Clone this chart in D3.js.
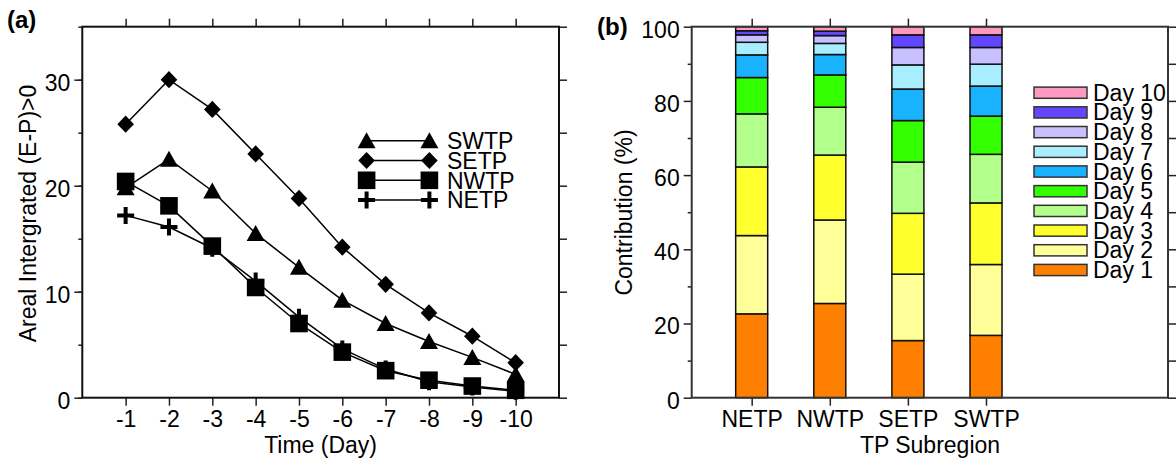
<!DOCTYPE html>
<html>
<head>
<meta charset="utf-8">
<script src="https://d3js.org/d3.v7.min.js"></script>
<style>
  body { margin: 0; background: #fff; }
  svg text { font-family: "Liberation Sans", Arial, sans-serif; fill: #000; }
</style>
</head>
<body>
<svg id="chart" width="1176" height="460"></svg>
<script>

// ---- data (a): areal integrated (E-P)>0 per source day
var days = ["-1", "-2", "-3", "-4", "-5", "-6", "-7", "-8", "-9", "-10"]
var swtp = [19.8, 22.5, 19.5, 15.5, 12.3, 9.2, 7.0, 5.3, 3.8, 2.2]
var setp = [25.8, 30.0, 27.2, 23.0, 18.8, 14.2, 10.7, 8.0, 5.8, 3.3]
var nwtp = [20.4, 18.1, 14.3, 10.4, 7.0, 4.3, 2.55, 1.65, 1.1, 0.7]
var netp = [17.2, 16.1, 14.1, 11.0, 7.6, 4.6, 2.7, 1.5, 1.0, 0.6]

// ---- data (b): contribution (%) of each day, per subregion
var regions = ["NETP", "NWTP", "SETP", "SWTP"]
var dayNames = ["Day 1", "Day 2", "Day 3", "Day 4", "Day 5", "Day 6", "Day 7", "Day 8", "Day 9", "Day 10"]
var netpPct = [22.6, 21.1, 18.5, 14.3, 9.8, 6.1, 3.4, 2.0, 1.1, 1.1]
var nwtpPct = [25.4, 22.5, 17.5, 12.9, 8.7, 5.5, 3.0, 2.1, 1.2, 1.2]
var setpPct = [15.4, 17.9, 16.4, 13.8, 11.2, 8.5, 6.5, 4.7, 3.4, 2.2]
var swtpPct = [16.8, 19.1, 16.6, 13.1, 10.3, 8.1, 5.9, 4.5, 3.4, 2.2]

var dayColors = ["#ff8000", "#ffff99", "#ffff2e", "#b3ff8c", "#33ff00",
                 "#19b2ff", "#a8eeff", "#c9c0ff", "#6347ff", "#ff99c0"]

var svg = d3.select("#chart")
var FS = 23

// marker shapes, centred on 0,0
function marker(type) {
  if (type == "square") return "M-8.8,-8.8H8.8V8.8H-8.8Z"
  if (type == "diamond") return "M0,-8.6L8.3,0L0,8.6L-8.3,0Z"
  if (type == "triangle") return "M0,-8.5L9,7.5L-9,7.5Z"
  return "M-8.5,0H8.5M0,-8.5V8.5"   // plus
}

function drawMarker(g, type, x, y) {
  var p = g.append("path").attr("d", marker(type))
    .attr("transform", "translate(" + x + "," + y + ")")
  if (type == "plus") p.attr("fill", "none").attr("stroke", "#000").attr("stroke-width", 4)
  else p.attr("fill", "#000")
}

// ================= panel (a) =================
var xa = d3.scaleLinear().domain([0, 11]).range([82.3, 559])
var ya = d3.scaleLinear().domain([0, 35]).range([397.7, 26.7])

var ga = svg.append("g")

// minor ticks every 5 on both sides
ga.append("g").attr("transform", "translate(82.3,0)")
  .call(d3.axisLeft(ya).tickValues(d3.range(0, 36, 5)).tickSize(4).tickFormat(""))
ga.append("g").attr("transform", "translate(559,0)")
  .call(d3.axisRight(ya).tickValues(d3.range(0, 36, 5)).tickSize(8).tickFormat(""))
// labelled ticks
ga.append("g").attr("class", "ylab").attr("transform", "translate(82.3,0)")
  .call(d3.axisLeft(ya).tickValues([0, 10, 20, 30]).tickSize(8).tickPadding(4))
ga.append("g").attr("class", "xlab").attr("transform", "translate(0,397.7)")
  .call(d3.axisBottom(xa).tickValues(d3.range(1, 11)).tickFormat(function(i) { return days[i - 1] })
    .tickSize(8).tickPadding(5))
ga.append("g").attr("transform", "translate(0,26.7)")
  .call(d3.axisTop(xa).tickValues(d3.range(1, 11)).tickSize(8).tickFormat(""))

ga.append("rect").attr("x", 82.3).attr("y", 26.7).attr("width", 559 - 82.3).attr("height", 397.7 - 26.7)
  .attr("fill", "none").attr("stroke", "#111").attr("stroke-width", 2)

var series = [
  {name: "SWTP", vals: swtp, shape: "triangle"},
  {name: "SETP", vals: setp, shape: "diamond"},
  {name: "NWTP", vals: nwtp, shape: "square"},
  {name: "NETP", vals: netp, shape: "plus"}
]

var line = d3.line()
  .x(function(d, i) { return xa(i + 1) })
  .y(function(d) { return ya(d) })

series.slice().reverse().forEach(function(s) {
  ga.append("path").datum(s.vals).attr("d", line)
    .attr("fill", "none").attr("stroke", "#000").attr("stroke-width", 1.5)
  s.vals.forEach(function(v, i) { drawMarker(ga, s.shape, xa(i + 1), ya(v)) })
})

// legend (a)
series.forEach(function(s, i) {
  var ly = 140.7 + i * 19.8
  ga.append("line").attr("x1", 366.6).attr("x2", 429.4).attr("y1", ly).attr("y2", ly)
    .attr("stroke", "#000").attr("stroke-width", 1.5)
  drawMarker(ga, s.shape, 366.6, ly)
  drawMarker(ga, s.shape, 429.4, ly)
  ga.append("text").attr("x", 447).attr("y", ly + 8.2).style("font-size", FS + "px").text(s.name)
})

ga.append("text").attr("x", 320.6).attr("y", 453).attr("text-anchor", "middle")
  .style("font-size", FS + "px").text("Time (Day)")
ga.append("text").attr("transform", "translate(35.5,213.5) rotate(-90)").attr("text-anchor", "middle")
  .style("font-size", FS + "px").text("Areal Intergrated (E-P)>0")
ga.append("text").attr("x", 7).attr("y", 28).style("font-size", "24px").style("font-weight", "bold").text("(a)")

// ================= panel (b) =================
var xb = d3.scaleLinear().domain([0.232, 6.33]).range([691.7, 1168])
var yb = d3.scaleLinear().domain([0, 100]).range([397.7, 26.7])
var barW = 32

var gb = svg.append("g")

gb.append("g").attr("transform", "translate(691.7,0)")
  .call(d3.axisLeft(yb).tickValues(d3.range(10, 100, 20)).tickSize(4).tickFormat(""))
gb.append("g").attr("transform", "translate(1168,0)")
  .call(d3.axisRight(yb).tickValues(d3.range(0, 101, 10)).tickSize(8).tickFormat(""))
gb.append("g").attr("class", "ylab").attr("transform", "translate(691.7,0)")
  .call(d3.axisLeft(yb).tickValues(d3.range(0, 101, 20)).tickSize(8).tickPadding(4))
gb.append("g").attr("class", "xlab").attr("transform", "translate(0,397.7)")
  .call(d3.axisBottom(xb).tickValues([1, 2, 3, 4]).tickFormat(function(i) { return regions[i - 1] })
    .tickSize(8).tickPadding(5))
gb.append("g").attr("transform", "translate(0,26.7)")
  .call(d3.axisTop(xb).tickValues([1, 2, 3, 4]).tickSize(8).tickFormat(""))

// stacked bars
var pct = [netpPct, nwtpPct, setpPct, swtpPct]
var rows = regions.map(function(r, i) {
  var o = {region: r, idx: i + 1}
  dayNames.forEach(function(d, k) { o[d] = pct[i][k] })
  return o
})
var stacked = d3.stack().keys(dayNames)(rows)

gb.selectAll("g.layer").data(stacked).enter().append("g").attr("class", "layer")
  .attr("fill", function(d, k) { return dayColors[k] })
  .selectAll("rect").data(function(d) { return d }).enter().append("rect")
    .attr("x", function(d) { return xb(d.data.idx) - barW / 2 })
    .attr("width", barW)
    .attr("y", function(d) { return yb(d[1]) })
    .attr("height", function(d) { return yb(d[0]) - yb(d[1]) })
    .attr("stroke", "#111").attr("stroke-width", 1.5)

gb.append("rect").attr("x", 691.7).attr("y", 26.7).attr("width", 1168 - 691.7).attr("height", 397.7 - 26.7)
  .attr("fill", "none").attr("stroke", "#333").attr("stroke-width", 2)

// legend (b), Day 10 on top
dayNames.slice().reverse().forEach(function(d, i) {
  var cy = 92.7 + i * 19.7
  var k = dayNames.length - 1 - i
  gb.append("rect").attr("x", 1034).attr("y", cy - 5.6).attr("width", 53).attr("height", 11.2)
    .attr("fill", dayColors[k]).attr("stroke", "#333").attr("stroke-width", 1.5)
  gb.append("text").attr("x", 1093).attr("y", cy + 8).style("font-size", FS + "px").text(d)
})

gb.append("text").attr("x", 930).attr("y", 453).attr("text-anchor", "middle")
  .style("font-size", FS + "px").text("TP Subregion")
gb.append("text").attr("transform", "translate(632,212.5) rotate(-90)").attr("text-anchor", "middle")
  .style("font-size", FS + "px").text("Contribution (%)")
gb.append("text").attr("x", 597).attr("y", 35).style("font-size", "24px").style("font-weight", "bold").text("(b)")

// axis styling
svg.selectAll(".domain").remove()
svg.selectAll(".tick line").attr("stroke", "#222").attr("stroke-width", 1.5)
svg.selectAll(".tick text").style("font-size", FS + "px").attr("fill", "#000")
  .style("font-family", "'Liberation Sans', Arial, sans-serif")
svg.selectAll(".ylab .tick text").attr("dy", "0.45em")

</script>
</body>
</html>
